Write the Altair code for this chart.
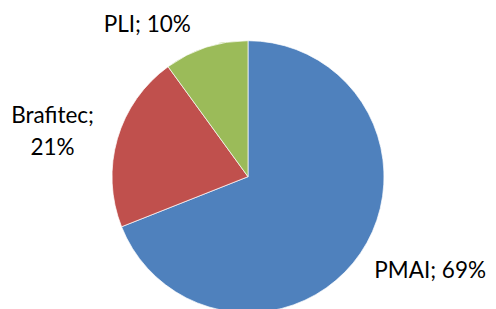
import altair as alt
import pandas as pd

categories = ["PMAI", "Brafitec", "PLI"]
values = [69, 21, 10]
labels = ["PMAI; 69%", "Brafitec;\n21%", "PLI; 10%"]
colors = ["#4F81BD", "#C0504D", "#9BBB59"]
order = [0, 1, 2]

# label offsets (style) per category
offsets = {"PMAI": (25, -12), "Brafitec": (-13, -8), "PLI": (-42, 29)}

df = pd.DataFrame({"cat": categories, "value": values, "label": labels, "ord": order})

base = alt.Chart(df).encode(
    theta=alt.Theta("value:Q", stack=True),
    order=alt.Order("ord:Q"),
    x=alt.value(240),
    y=alt.value(168.7),
)

arc = base.mark_arc(outerRadius=136, stroke="white", strokeWidth=0.7).encode(
    color=alt.Color("cat:N", scale=alt.Scale(domain=categories, range=colors), legend=None)
)

layers = [arc]
for c in categories:
    dx, dy = offsets[c]
    layers.append(
        base.mark_text(
            radius=190, dx=dx, dy=dy, fontSize=22.5, font="Lato", lineBreak="\n",
            lineHeight=32, align="center", baseline="middle", color="#000000",
        ).encode(text=alt.condition(f"datum.cat == '{c}'", "label:N", alt.value("")))
    )

chart = alt.layer(*layers).properties(
    width=480, height=293, autosize=alt.AutoSizeParams(type="none"),
    padding={"left": 0, "top": 0, "right": 0, "bottom": 8},
).configure_view(stroke=None)

chart.save("out.html", embed_options={"renderer": "svg", "actions": False})
